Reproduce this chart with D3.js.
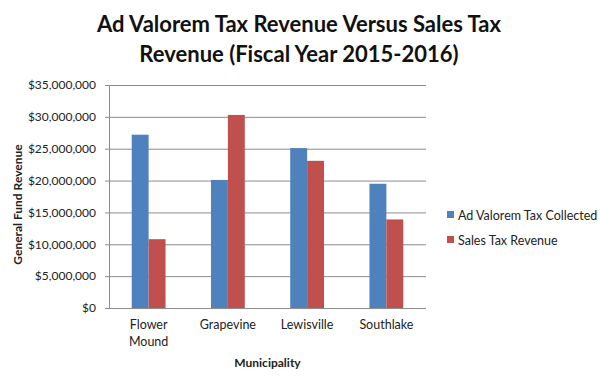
<!DOCTYPE html>
<html><head><meta charset="utf-8">
<script src="https://cdn.jsdelivr.net/npm/d3@7"></script>
<style>body{margin:0;background:#fff;} svg{display:block;} text{font-family:Lato,"Open Sans",sans-serif;}</style>
</head><body><svg id="c" width="600" height="378"></svg>
<script>
const categories = [["Flower","Mound"],["Grapevine"],["Lewisville"],["Southlake"]];
const seriesNames = ["Ad Valorem Tax Collected","Sales Tax Revenue"];
const adValorem = [27200000, 20100000, 25100000, 19500000];
const salesTax = [10800000, 30300000, 23100000, 13900000];
const yTicks = [0,5000000,10000000,15000000,20000000,25000000,30000000,35000000];
const colors = ["#4F81BD","#C0504D"];

const svg = d3.select("#c");
const m = {l:109, r:426, t:85, b:308};
const keys = categories.map(c=>c.join(" "));
const x0 = d3.scaleBand().domain(keys).range([m.l,m.r]).paddingInner(0.5732).paddingOuter(0.2866);
const x1 = d3.scaleBand().domain(seriesNames).range([0,x0.bandwidth()]);
const y = d3.scaleLinear().domain([0,35000000]).range([m.b,m.t]);
const data = keys.map((k,i)=>({k, vals:[adValorem[i], salesTax[i]]}));

// gridlines
svg.append("g").selectAll("line").data(yTicks.slice(1)).join("line")
  .attr("x1",m.l).attr("x2",m.r).attr("y1",d=>y(d)+0.5).attr("y2",d=>y(d)+0.5)
  .attr("stroke","#8c8c8c").attr("stroke-width",1);

// bars
svg.append("g").selectAll("g").data(data).join("g")
  .attr("transform",d=>`translate(${x0(d.k)},0)`)
  .selectAll("rect").data(d=>d.vals.map((v,j)=>({v,j}))).join("rect")
  .attr("x",d=>x1(seriesNames[d.j])).attr("width",x1.bandwidth())
  .attr("y",d=>y(d.v)).attr("height",d=>y(0)-y(d.v)).attr("fill",d=>colors[d.j]);

// y axis
const fmt = d=>"$"+d3.format(",")(d);
const ya = svg.append("g").attr("transform",`translate(${m.l},0)`)
  .call(d3.axisLeft(y).tickValues(yTicks).tickFormat(fmt).tickSize(4).tickPadding(9));
ya.select(".domain").attr("stroke","#8c8c8c").attr("d",`M0.5,${m.t}V${m.b}`);
ya.selectAll(".tick line").attr("stroke","#8c8c8c");
ya.selectAll(".tick text").attr("font-size","12px").attr("fill","#222").style("font-family","Lato,sans-serif");

// x axis
const xa = svg.append("g").attr("transform",`translate(0,${m.b})`)
  .call(d3.axisBottom(x0).tickSize(0).tickFormat(""));
xa.select(".domain").attr("stroke","#8c8c8c").attr("d",`M${m.l},0.5H${m.r}`);
xa.selectAll(".tick").each(function(d,i){
  const t = d3.select(this).append("text").attr("fill","#222").attr("font-size","12.5px").attr("text-anchor","middle");
  categories[i].forEach((ln,j)=>t.append("tspan").attr("x",0).attr("y",21+j*17).text(ln));
});

// axis titles
svg.append("text").attr("x",(m.l+m.r)/2).attr("y",367).attr("text-anchor","middle")
  .attr("font-weight","bold").attr("font-size","12px").attr("fill","#222").text("Municipality");
svg.append("text").attr("transform",`translate(22,${(m.t+m.b)/2+8}) rotate(-90)`).attr("text-anchor","middle")
  .attr("font-weight","bold").attr("font-size","12px").attr("fill","#222").text("General Fund Revenue");

// title
const title = svg.append("text").attr("text-anchor","middle").attr("font-weight","bold").attr("font-size","22px").attr("fill","#111");
title.append("tspan").attr("x",299).attr("y",32).text("Ad Valorem Tax Revenue Versus Sales Tax");
title.append("tspan").attr("x",299).attr("y",62).text("Revenue (Fiscal Year 2015-2016)");

// legend
const lg = svg.append("g").selectAll("g").data(seriesNames).join("g")
  .attr("transform",(d,i)=>`translate(447,${215+i*25})`);
lg.append("rect").attr("x",0).attr("y",-4).attr("width",7).attr("height",7).attr("fill",(d,i)=>colors[i]);
lg.append("text").attr("x",11).attr("y",4.5).attr("font-size","12.5px").attr("fill","#222").text(d=>d);
</script></body></html>
